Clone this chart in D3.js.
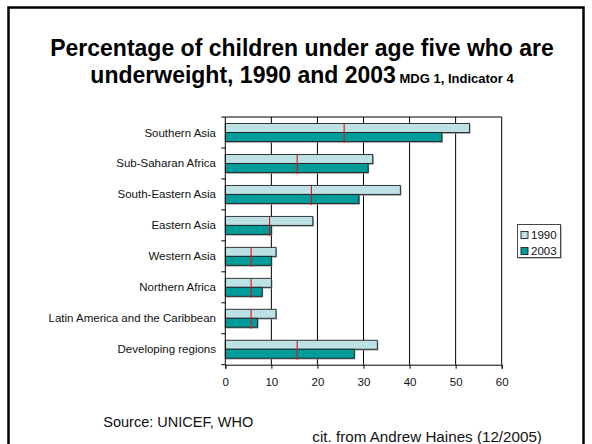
<!DOCTYPE html>
<html>
<head>
<meta charset="utf-8">
<script src="https://cdn.jsdelivr.net/npm/d3@7"></script>
<style>
  html, body { margin: 0; padding: 0; background: #fff; }
  svg { display: block; font-family: "Liberation Sans", Arial, sans-serif; }
</style>
</head>
<body>
<svg id="chart" width="592" height="444"></svg>
<script>
const categories = [
  "Southern Asia",
  "Sub-Saharan Africa",
  "South-Eastern Asia",
  "Eastern Asia",
  "Western Asia",
  "Northern Africa",
  "Latin America and the Caribbean",
  "Developing regions"
];
const seriesNames = ["1990", "2003"];
const values1990 = [53, 32, 38, 19, 11, 10, 11, 33];
const values2003 = [47, 31, 29, 10, 10, 8, 7, 28];
const targetMarks = [25.8, 15.6, 18.7, 9.6, 5.6, 5.6, 5.6, 15.6];
const xTicks = [0, 10, 20, 30, 40, 50, 60];
const titleLine1 = "Percentage of children under age five who are";
const titleLine2 = "underweight, 1990 and 2003";
const titleNote = " MDG 1, Indicator 4";
const sourceText = "Source: UNICEF, WHO";
const citeText = "cit. from Andrew Haines (12/2005)";

(function () {
const colors = { "1990": "#BCE2E5", "2003": "#009C9A" };

const svg = d3.select("#chart");

// outer frame
svg.append("rect")
  .attr("x", 8.5).attr("y", 7.5).attr("width", 575).attr("height", 450)
  .attr("fill", "none").attr("stroke", "#000").attr("stroke-width", 2.5);

// title
svg.append("text").attr("text-anchor", "middle").attr("fill", "#000")
  .attr("font-weight", "bold").attr("x", 302).attr("y", 56).attr("font-size", 23).text(titleLine1);
const t2 = svg.append("text").attr("text-anchor", "middle").attr("fill", "#000")
  .attr("font-weight", "bold").attr("x", 302).attr("y", 83);
t2.append("tspan").attr("font-size", 23).text(titleLine2);
t2.append("tspan").attr("font-size", 13).text(titleNote);

// plot geometry
const pLeft = 225.3, pRight = 501.7, pTop = 117, pBottom = 364.7;

const x = d3.scaleLinear().domain([0, 60]).range([pLeft, pRight]);
const y = d3.scaleBand().domain(categories).range([pTop, pBottom])
  .paddingInner(0.42).paddingOuter(0.21);
const ySub = d3.scaleBand().domain(seriesNames).range([0, y.bandwidth()]);

const data = categories.map((c, i) => ({ cat: c, v: { "1990": values1990[i], "2003": values2003[i] }, target: targetMarks[i] }));

// gridlines
svg.append("g").selectAll("line").data(xTicks.filter(d => d > 0)).join("line")
  .attr("x1", d => x(d)).attr("x2", d => x(d))
  .attr("y1", pTop).attr("y2", pBottom)
  .attr("stroke", "#000").attr("stroke-width", 1);
svg.append("line").attr("x1", pLeft).attr("x2", pRight).attr("y1", pTop).attr("y2", pTop)
  .attr("stroke", "#000").attr("stroke-width", 1);

// bars
const g = svg.append("g");
data.forEach(d => {
  seriesNames.forEach(s => {
    const by = y(d.cat) + ySub(s);
    const bh = ySub.bandwidth();
    g.append("rect")
      .attr("x", x(0) + 1).attr("y", by + 1.2)
      .attr("width", x(d.v[s]) - x(0)).attr("height", bh)
      .attr("fill", "#8a8a8a");
    g.append("rect")
      .attr("x", x(0)).attr("y", by)
      .attr("width", x(d.v[s]) - x(0)).attr("height", bh)
      .attr("fill", colors[s]).attr("stroke", "#222").attr("stroke-width", 0.9);
  });
  g.append("line")
    .attr("x1", x(d.target)).attr("x2", x(d.target))
    .attr("y1", y(d.cat) + 0.5).attr("y2", y(d.cat) + y.bandwidth() + 1.5)
    .attr("stroke", "#E0101A").attr("stroke-width", 1.1);
});

// y axis
const yStep = y.step();
const boundaries = d3.range(categories.length + 1).map(i => pTop + i * yStep);
svg.append("line").attr("x1", pLeft).attr("x2", pLeft).attr("y1", pTop).attr("y2", pBottom)
  .attr("stroke", "#000").attr("stroke-width", 1);
svg.append("g").selectAll("line").data(boundaries).join("line")
  .attr("x1", pLeft - 4).attr("x2", pLeft).attr("y1", d => d).attr("y2", d => d)
  .attr("stroke", "#000");
svg.append("g").selectAll("text").data(categories).join("text")
  .attr("x", 216).attr("y", d => y(d) + y.bandwidth() / 2)
  .attr("dy", "0.35em").attr("text-anchor", "end")
  .attr("font-size", 11.5).attr("fill", "#111").text(d => d);

// x axis
const xAxis = d3.axisBottom(x).tickValues(xTicks).tickSize(4).tickPadding(9).tickFormat(d3.format("d"));
const xg = svg.append("g").attr("transform", `translate(0,${pBottom})`).call(xAxis);
xg.select(".domain").attr("stroke", "#000");
xg.selectAll(".tick line").attr("stroke", "#000");
xg.selectAll("text").attr("font-size", 11.5).attr("font-family", "\"Liberation Sans\", Arial, sans-serif").attr("fill", "#111");

// legend
const lg = svg.append("g");
lg.append("rect").attr("x", 518.5).attr("y", 225.5).attr("width", 43).attr("height", 33).attr("fill", "#888");
lg.append("rect").attr("x", 517.5).attr("y", 224.5).attr("width", 43).attr("height", 33)
  .attr("fill", "#fff").attr("stroke", "#444").attr("stroke-width", 1);
seriesNames.forEach((s, i) => {
  const cy = 235 + i * 16;
  lg.append("rect").attr("x", 521).attr("y", cy - 3.5).attr("width", 7).attr("height", 7)
    .attr("fill", colors[s]).attr("stroke", "#222").attr("stroke-width", 0.9);
  lg.append("text").attr("x", 531).attr("y", cy).attr("dy", "0.35em")
    .attr("font-size", 11.5).attr("fill", "#111").text(s);
});

// footer
svg.append("text").attr("x", 103.3).attr("y", 427).attr("font-size", 14.5).attr("fill", "#111").text(sourceText);
svg.append("text").attr("x", 312.3).attr("y", 442).attr("font-size", 15.2).attr("fill", "#111").text(citeText);
})();
</script>
</body>
</html>
